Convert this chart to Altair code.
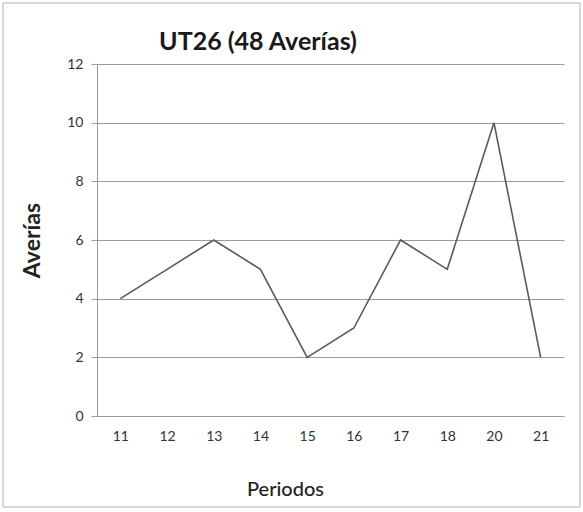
import altair as alt
import pandas as pd

periodos = ["11", "12", "13", "14", "15", "16", "17", "18", "20", "21"]
averias = [4, 5, 6, 5, 2, 3, 6, 5, 10, 2]
titulo = "UT26 (48 Averías)"

df = pd.DataFrame({"Periodos": periodos, "Averías": averias})

FONT = "Lato"

line = alt.Chart(df).mark_line(color="#5a5a5a", strokeWidth=1.6).encode(
    x=alt.X(
        "Periodos:O",
        sort=periodos,
        scale=alt.Scale(type="point", padding=0.5),
        axis=alt.Axis(
            title="Periodos",
            labelAngle=0,
            labelFontSize=14,
            labelColor="#333333",
            labelPadding=13,
            titleFontSize=20,
            titleFontWeight=500,
            titleColor="#222222",
            titlePadding=36,
            titleX=188,
            domainColor="#9a9a9a",
            ticks=False,
            grid=False,
        ),
    ),
    y=alt.Y(
        "Averías:Q",
        scale=alt.Scale(domain=[0, 12]),
        axis=alt.Axis(
            title="Averías",
            values=[0, 2, 4, 6, 8, 10, 12],
            labelFontSize=14,
            labelColor="#333333",
            labelPadding=8,
            titleFontSize=23,
            titleFontWeight="bold",
            titleColor="#222222",
            titlePadding=22,
            domainColor="#9a9a9a",
            tickColor="#9a9a9a",
            tickSize=6,
            gridColor="#9a9a9a",
            gridWidth=1,
        ),
    ),
)

# chart heading drawn as a text mark above the plot area
heading = alt.Chart(pd.DataFrame({"t": [titulo]})).mark_text(
    font=FONT, fontSize=25, fontWeight="bold", color="#1a1a1a",
    align="center", baseline="middle", clip=False,
).encode(text="t:N", x=alt.value(161), y=alt.value(-22))

# outer chart frame
frame = alt.Chart(pd.DataFrame({"k": [0]})).mark_rect(
    fill=None, stroke="#b0b0b0", strokeWidth=1, clip=False
).encode(
    x=alt.value(-94), x2=alt.value(483), y=alt.value(-61), y2=alt.value(443)
)

chart = (
    alt.layer(frame, line, heading)
    .properties(
        width=467,
        height=352,
        padding={"left": 97, "top": 64, "right": 19, "bottom": 96},
        autosize=alt.AutoSizeParams(type="none"),
    )
    .configure(font=FONT, background="white")
    .configure_view(stroke=None)
)

chart.save("out.html", embed_options={"renderer": "svg", "actions": False})
